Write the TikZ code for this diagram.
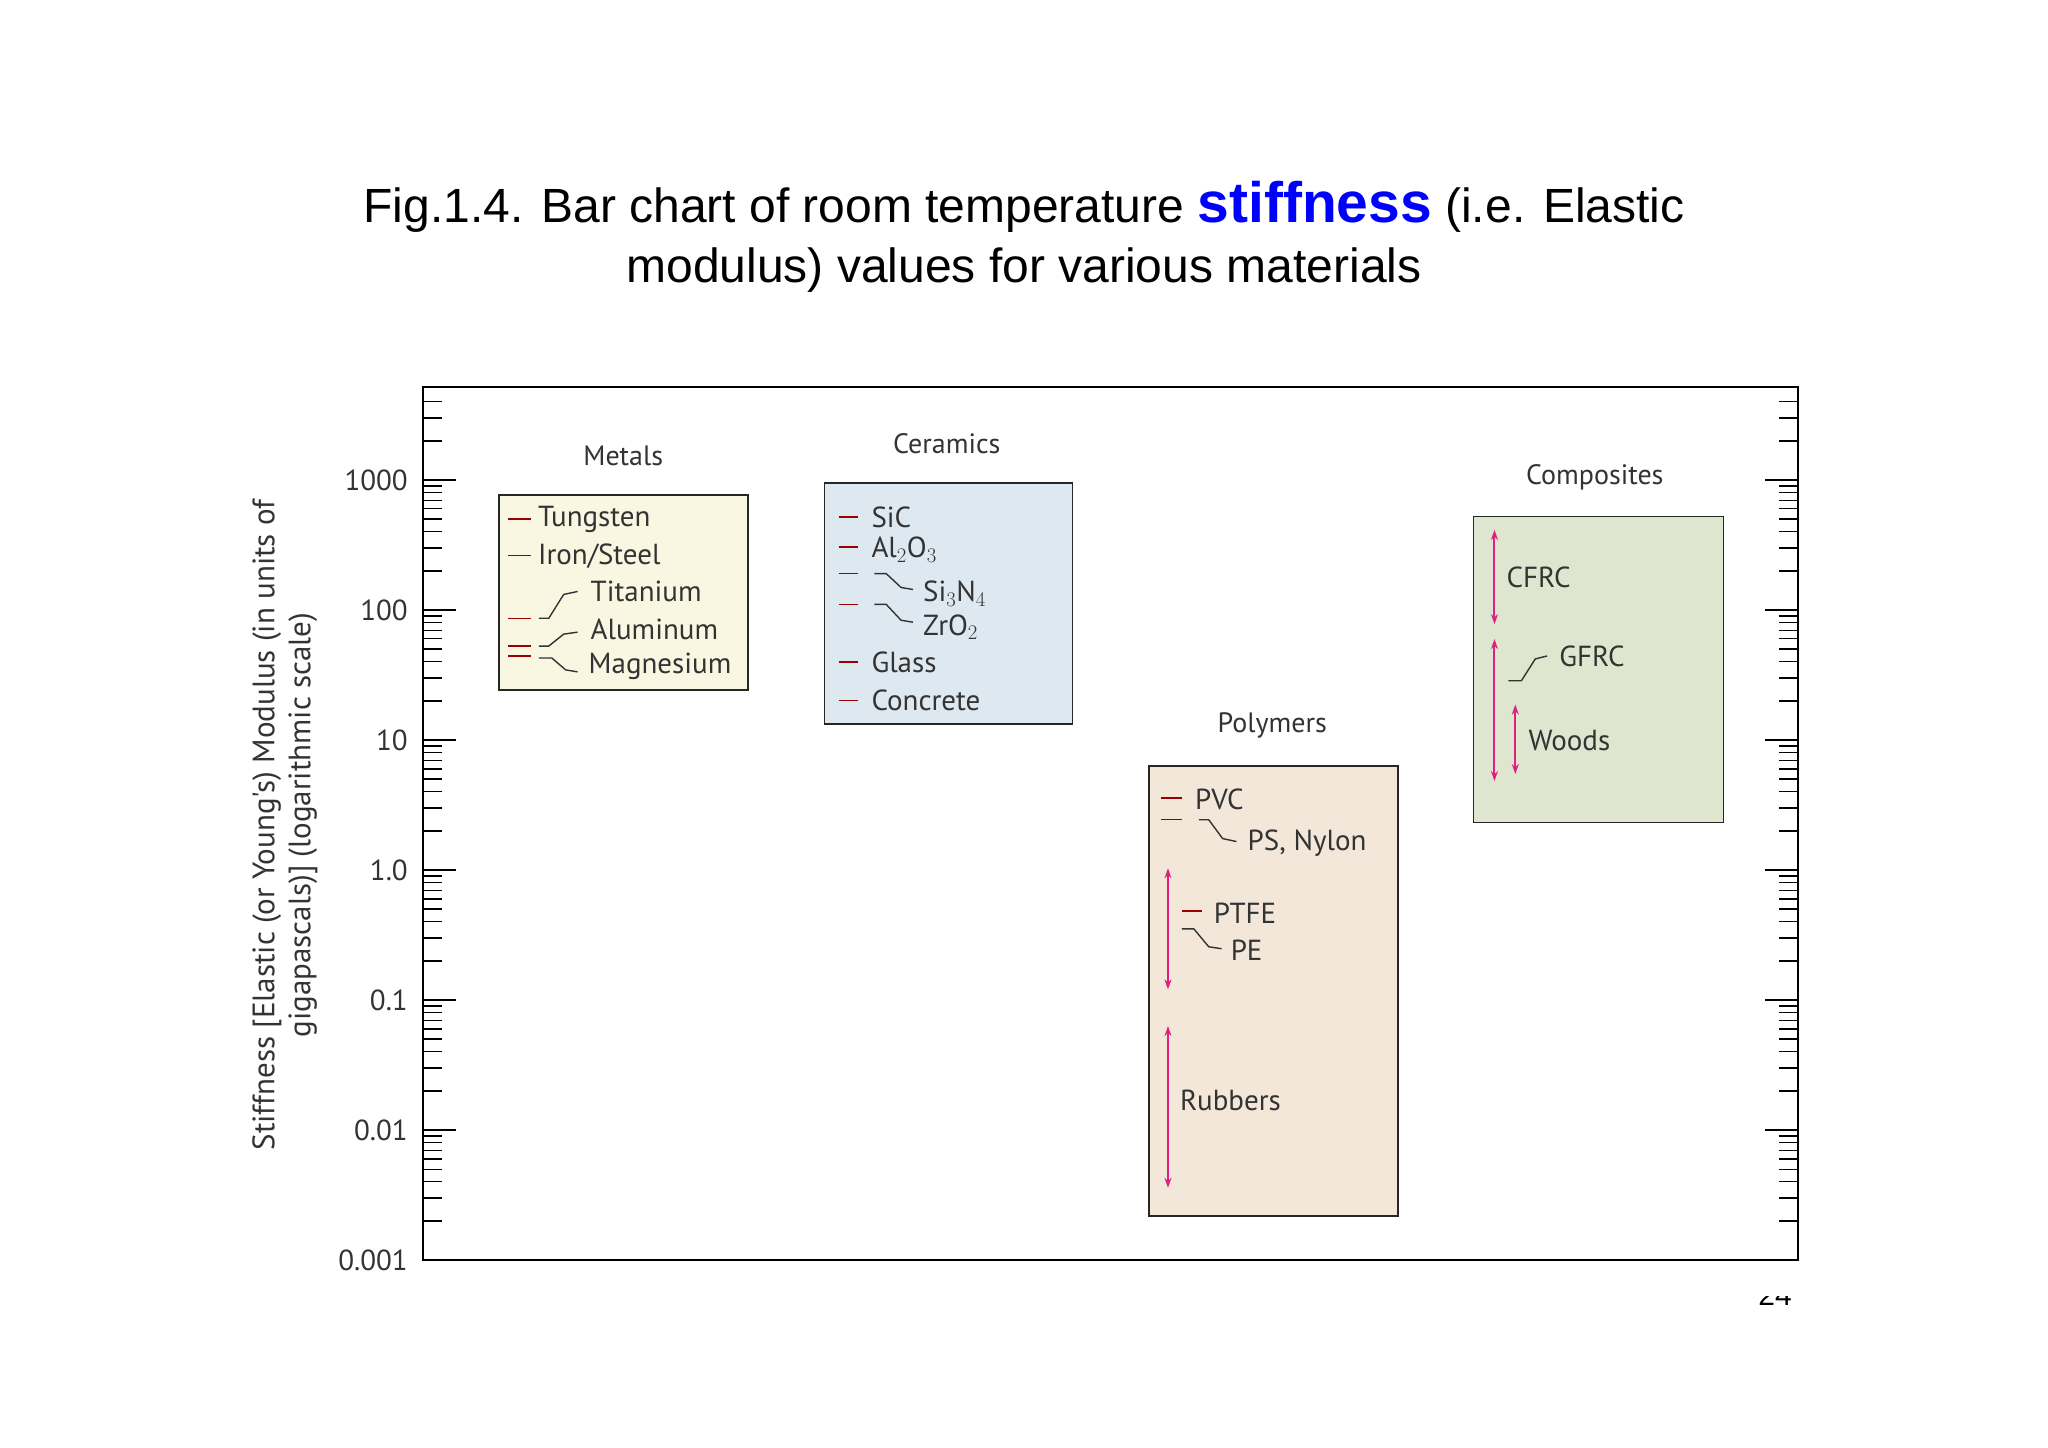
\documentclass[tikz,border=0pt]{standalone}
\usepackage{fontspec}
\usetikzlibrary{arrows.meta}
\setmainfont{Liberation Sans}
\newfontfamily\chartfont{PT Sans}
\begin{document}
\begin{tikzpicture}[x=1pt,y=-1pt,
  lab/.style={font=\chartfont\fontsize{29}{30}\selectfont,text=black!80,anchor=west,inner sep=0pt},
  grp/.style={font=\chartfont\fontsize{28}{30}\selectfont,text=black!80,inner sep=0pt},
  tl/.style={font=\chartfont\fontsize{29}{30}\selectfont,text=black!80,anchor=east,inner sep=0pt},
  dashr/.style={draw=red!60!black,line width=1.4pt},
  conn/.style={draw=black!80,line width=1.4pt},
  dbl/.style={draw={rgb,255:red,224;green,32;blue,127},line width=2pt,{Stealth[length=10pt,width=7pt]}-{Stealth[length=10pt,width=7pt]}},
  box/.style={draw=black!85,line width=1.4pt}]
\useasboundingbox (0,0) rectangle (2048,1448);
\fill[white] (0,0) rectangle (2048,1448);
% title
\node[font=\fontsize{48}{60}\selectfont,align=center] (title) at (1024,237) {Fig.1.4. Bar chart of room temperature {\color{blue}\bfseries\fontsize{57}{60}\selectfont stiffness} (i.e. Elastic\\ modulus) values for various materials};
% axes
\draw[line width=1.6pt] (423,387) -- (423,1260) -- (1798,1260) -- (1798,387) -- cycle;
\foreach \d in {-3,...,2}{
  \foreach \k in {2,...,9}{
    \pgfmathsetmacro{\yy}{480+130*(3-(\d+ln(\k)/ln(10)))}
    \draw[line width=1.3pt] (423,\yy) -- (442,\yy);
    \draw[line width=1.3pt] (1798,\yy) -- (1779,\yy);
  }}
\foreach \k in {2,3,4}{
  \pgfmathsetmacro{\yy}{480-130*(ln(\k)/ln(10))}
  \draw[line width=1.3pt] (423,\yy) -- (442,\yy);
  \draw[line width=1.3pt] (1798,\yy) -- (1779,\yy);}
\foreach \i/\t in {0/1000,1/100,2/10,3/1.0,4/0.1,5/0.01,6/0.001}{
  \pgfmathsetmacro{\yy}{480+130*\i}
  \draw[line width=1.3pt] (423,\yy) -- (456,\yy);
  \draw[line width=1.3pt] (1798,\yy) -- (1765,\yy);
  \node[tl] (t\i) at (408,\yy) {\t};}
% y label
\node[font=\chartfont\fontsize{31}{36}\selectfont,text=black!80,rotate=90,align=center] (ylab) at (285,825) {Stiffness [Elastic (or Young's) Modulus (in units of\\gigapascals)] (logarithmic scale)};
\begin{scope}[xshift=-2pt,yshift=1pt,scale=0.9924]
% Metals
\node[box,fill={rgb,255:red,249;green,247;blue,225},minimum width=249pt,minimum height=195pt,anchor=north west] (metals) at (504,499) {};
\node[grp] (metalsl) at (630,460) {Metals};
\draw[dashr] (514,524) -- (537,524); \node[lab] (tung) at (544,524) {Tungsten};
\draw[dashr] (514,561) -- (537,561); \node[lab] (iron) at (544,561) {Iron/Steel};
\draw[dashr] (514,624) -- (537,624); \draw[conn] (545,624) -- (555,624) -- (570,600) -- (584,597);
\node[lab] (ti) at (597,597) {Titanium};
\draw[dashr] (514,652) -- (537,652); \draw[conn] (545,652) -- (555,652) -- (570,640) -- (584,638);
\node[lab] (al) at (597,635) {Aluminum};
\draw[dashr] (514,662) -- (537,662); \draw[conn] (545,664) -- (558,664) -- (572,676) -- (584,678);
\node[lab] (mg) at (595,672) {Magnesium};
% Ceramics
\node[box,fill={rgb,255:red,221;green,232;blue,240},minimum width=248pt,minimum height=241pt,anchor=north west] (cer) at (832,487) {};
\node[grp] (cerl) at (956,448) {Ceramics};
\draw[dashr] (847,522) -- (867,522); \node[lab] (sic) at (880,522) {SiC};
\draw[dashr] (847,552) -- (867,552); \node[lab] (alo) at (880,555) {Al$_2$O$_3$};
\draw[dashr] (847,579) -- (867,579); \draw[conn] (883,579) -- (895,579) -- (910,593) -- (922,595);
\node[lab] (sin) at (932,599) {Si$_3$N$_4$};
\draw[dashr] (847,610) -- (867,610); \draw[conn] (883,610) -- (895,610) -- (910,626) -- (922,628);
\node[lab] (zro) at (932,633) {ZrO$_2$};
\draw[dashr] (847,668) -- (867,668); \node[lab] (glass) at (880,668) {Glass};
\draw[dashr] (847,707) -- (867,707); \node[lab] (conc) at (880,707) {Concrete};
% Polymers
\node[box,fill={rgb,255:red,243;green,231;blue,218},minimum width=249pt,minimum height=450pt,anchor=north west] (pol) at (1159,772) {};
\node[grp] (poll) at (1284,732) {Polymers};
\draw[dashr] (1172,805) -- (1193,805); \node[lab] (pvc) at (1206,806) {PVC};
\draw[dashr] (1172,827) -- (1193,827); \draw[conn] (1210,827) -- (1220,827) -- (1234,846) -- (1248,849);
\node[lab] (ps) at (1259,851) {PS, Nylon};
\coordinate (pa1) at (1179,876); \coordinate (pa2) at (1179,998);
\draw[dbl] (pa1) -- (pa2);
\draw[dashr] (1193,919) -- (1213,919); \node[lab] (ptfe) at (1225,921) {PTFE};
\draw[conn] (1193,937) -- (1205,937) -- (1220,955) -- (1233,957);
\node[lab] (pe) at (1242,959) {PE};
\coordinate (ra1) at (1179,1035); \coordinate (ra2) at (1179,1198);
\draw[dbl] (ra1) -- (ra2);
\node[lab] (rub) at (1191,1110) {Rubbers};
% Composites
\node[box,fill={rgb,255:red,223;green,230;blue,207},minimum width=250pt,minimum height=306pt,anchor=north west] (comp) at (1486,521) {};
\node[grp] (compl) at (1609,482) {Composites};
\coordinate (ca1) at (1508,535); \coordinate (ca2) at (1508,630);
\draw[dbl] (ca1) -- (ca2);
\node[lab] (cfrc) at (1520,583) {CFRC};
\coordinate (ga1) at (1508,645); \coordinate (ga2) at (1508,788);
\draw[dbl] (ga1) -- (ga2);
\draw[conn] (1522,687) -- (1535,687) -- (1549,665) -- (1561,662);
\node[lab] (gfrc) at (1573,662) {GFRC};
\coordinate (wa1) at (1529,711); \coordinate (wa2) at (1529,781);
\draw[dbl] (wa1) -- (wa2);
\node[lab] (woods) at (1542,747) {Woods};
\end{scope}
% page number (clipped)
\begin{scope}
\clip (1700,1296) rectangle (1850,1312);
\node[font=\fontsize{30}{30}\selectfont,anchor=base] (pg) at (1775,1305) {24};
\end{scope}
\end{tikzpicture}
\end{document}
